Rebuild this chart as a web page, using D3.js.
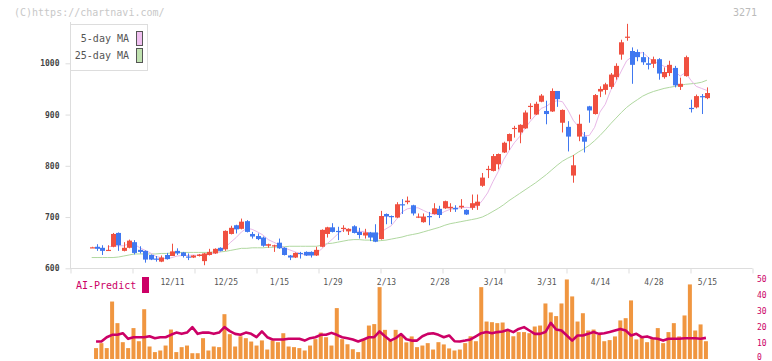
<!DOCTYPE html>
<html><head><meta charset="utf-8">
<script src="https://cdn.jsdelivr.net/npm/d3@7"></script>
<style>body{margin:0;background:#fff}svg{display:block}</style>
</head><body><svg id="c" width="772" height="361"></svg>
<script>
const dates = ["11/20","11/21","11/22","11/25","11/26","11/27","11/28","11/29","12/2","12/3","12/4","12/5","12/6","12/9","12/10","12/11","12/12","12/13","12/16","12/17","12/18","12/19","12/20","12/23","12/24","12/25","12/26","12/27","12/30","1/6","1/7","1/8","1/9","1/10","1/14","1/15","1/16","1/17","1/20","1/21","1/22","1/23","1/24","1/27","1/28","1/29","1/30","1/31","2/3","2/4","2/5","2/6","2/7","2/10","2/12","2/13","2/14","2/17","2/18","2/19","2/20","2/21","2/25","2/26","2/27","2/28","3/3","3/4","3/5","3/6","3/7","3/10","3/11","3/12","3/13","3/14","3/17","3/18","3/19","3/21","3/24","3/25","3/26","3/27","3/28","3/31","4/1","4/2","4/3","4/4","4/7","4/8","4/9","4/10","4/11","4/14","4/15","4/16","4/17","4/18","4/21","4/22","4/23","4/24","4/25","4/28","4/30","5/1","5/2","5/7","5/8","5/9","5/12","5/13","5/14","5/15"];
const open  = [641,642,640,635,642,669,634,640,651,636,634,626,619,613,626,624,634,631,623,621,624,614,626,629,640,637,667,684,677,692,667,663,660,644,643,650,640,625,621,630,632,632,625,642,667,680,673,677,672,682,671,664,670,670,657,706,702,699,725,729,723,700,690,702,706,716,717,717,718,719,714,718,722,761,793,790,803,826,848,872,865,873,915,900,925,907,906,946,884,876,781,857,857,916,901,945,948,954,973,1017,1050,1024,1022,1012,1000,999,1008,973,981,991,954,975,913,914,936,932];
const high  = [642,647,645,645,669,670,651,656,655,643,635,627,624,625,630,648,639,632,629,626,628,630,638,639,641,674,683,685,697,694,671,668,662,648,646,658,641,626,631,632,633,633,642,676,681,688,681,684,678,684,679,677,671,686,712,707,703,729,735,740,724,707,707,710,727,722,732,727,723,735,715,744,744,786,800,823,824,847,863,878,881,908,922,925,940,927,951,946,910,887,821,900,866,917,940,955,962,981,1000,1046,1077,1031,1027,1022,1012,1013,1010,992,1005,995,972,1015,929,939,940,953];
const low   = [640,634,626,635,641,634,633,639,627,629,611,616,613,612,617,624,626,621,616,620,623,606,625,628,633,634,666,668,676,670,658,655,642,640,632,638,625,616,620,619,624,621,624,641,660,670,655,671,665,668,658,658,653,651,656,686,686,698,706,725,703,698,689,684,705,698,716,710,710,716,704,714,714,759,776,789,793,825,831,855,844,872,891,899,924,881,905,915,865,828,767,848,826,884,900,934,939,950,968,1007,1044,960,1004,997,988,991,968,970,975,953,948,974,904,912,901,930];
const close = [641,638,634,636,667,645,640,654,630,632,617,617,617,621,618,633,629,624,621,625,627,629,632,638,634,673,679,676,691,671,662,657,644,647,645,639,626,621,630,628,625,625,636,675,680,671,672,679,677,669,665,670,660,652,702,701,700,725,724,732,707,701,701,701,717,704,731,720,715,722,705,727,730,777,794,819,823,845,862,874,880,904,917,921,937,901,946,930,909,857,801,882,847,908,938,950,959,978,995,1041,1052,997,1012,1002,997,1008,980,983,997,957,960,1012,911,936,934,942];
const ma5 = [null,null,null,642,643,644,644,648,647,640,635,630,623,621,618,621,624,625,625,626,625,625,627,630,632,641,651,660,671,678,676,671,665,656,651,646,640,636,632,629,626,626,629,638,648,657,667,675,676,674,672,672,668,663,670,677,683,696,710,716,718,718,713,708,705,705,711,715,717,718,719,718,720,732,747,769,789,812,829,845,857,873,887,899,912,916,924,927,925,909,889,876,859,859,875,905,920,947,964,985,1005,1013,1019,1021,1012,1003,1000,994,993,985,975,982,967,955,951,947];
const ma25 = [621,621,621,621,621,622,624,626,628,628,628,628,628,629,629,630,631,631,631,631,631,631,631,632,632,633,635,637,639,639,640,640,640,641,641,642,642,643,643,643,643,643,643,645,648,649,651,653,655,656,656,655,655,653,654,655,657,659,661,664,666,668,671,674,677,680,684,687,689,691,693,695,697,700,705,711,717,724,732,739,746,753,760,767,775,783,792,801,809,815,820,827,833,840,849,859,870,882,893,904,914,922,929,936,941,945,948,951,953,955,957,959,960,961,963,967];
const volume = [null,6.5,9.6,6.5,35.6,22.1,10.2,6.5,19,10.8,30.8,7.5,4,5,8.1,18.1,4,7.1,8.1,3.3,3.3,12.7,5,7.5,7.1,27.7,15.2,7.5,13.9,12.7,10.6,8.1,11.3,5.6,11.3,10.2,15.8,7.5,7.1,6.5,5,8.1,12.1,16.2,13.3,8.1,31.5,12.1,8.9,5.8,4,12.3,20.6,21.5,44.6,17.9,11.3,17.9,15,10.1,13.8,7.1,8.1,9.6,5.6,10.2,8.8,6.3,5,5.6,9.6,13.9,10.8,44.6,23.1,22.7,22.1,22.5,17.5,13.9,16.5,16.5,15.8,20,20.6,34.4,28.8,26.5,34.4,49.4,38.8,23.1,28.3,17.5,18.1,14.8,10.8,11.5,13.8,23.8,25.2,36.3,11.9,13.3,10.2,12.3,19,9.6,16.5,22.1,13.8,26.9,46.3,17.5,21.3,10.8];
const aiPredict = [null,10.6,10.6,13.3,14.8,14.8,15.8,12.3,13.3,13.3,13.3,13.9,12.7,13.3,13.3,14.8,16.2,15.4,16.2,19.6,15.4,16.2,16.2,15.4,16.2,19.6,17.1,15.4,14.8,16.2,15.4,13.3,16.9,13.3,11.9,11.9,11.9,12.3,12.3,12.3,11.2,12.7,13.3,14.8,14.8,16.0,14.8,13.3,12.7,11.9,10.6,11.9,13.3,13.3,16.9,13.9,11.2,12.7,15.3,12.0,11.2,11.2,13.9,15.4,15.8,14.8,13.3,14.4,10.8,10.6,11.2,11.9,13.9,15.8,16.5,15.8,16.5,16.9,17.9,16.5,18.5,19.6,17.5,15.4,15.4,16.5,22.3,18.1,17.5,14.4,11.2,14.4,14.4,15.4,16.5,15.4,15.8,16.5,17.5,18.5,17.5,14.4,15.4,13.3,13.8,12.7,12.3,11.2,12.3,12.3,12.3,12.7,12.7,12.7,12.3,12.9];
const xLabels = ["12/11","12/25","1/15","1/29","2/13","2/28","3/14","3/31","4/14","4/28","5/15"];
const yTicks = [600,700,800,900,1000];
const vTicks = [0,10,20,30,40,50];
const legendNames = ["5-day MA","25-day MA"];

const FONT = "'DejaVu Sans Mono', 'Liberation Mono', monospace";
const UP = "#f05040", DOWN = "#4078f0";
const svg = d3.select("#c");
const n = close.length;
const x = d3.scaleLinear().domain([-4, 123.5]).range([70.3, 752.4]);
const y = d3.scaleLinear().domain([600, 1000]).range([268.3, 63.3]);
const yv = d3.scaleLinear().domain([0, 50]).range([358.5, 278.5]);
const idx = d3.range(n);

// header texts
svg.append("text").attr("x", 14).attr("y", 16).attr("font-family", FONT).attr("font-size", 10)
  .attr("fill", "#c8c8c8").text("(C)https://chartnavi.com/");
svg.append("text").attr("x", 757).attr("y", 16).attr("text-anchor", "end").attr("font-family", FONT)
  .attr("font-size", 10).attr("fill", "#bbbbbb").text("3271");

// left axis
svg.append("line").attr("x1", 70.5).attr("x2", 70.5).attr("y1", 22).attr("y2", 268.5).attr("stroke", "#dddddd");
const ya = svg.append("g").attr("transform", "translate(70.5,0)")
  .call(d3.axisLeft(y).tickValues(yTicks).tickSize(5).tickPadding(6).tickFormat(d3.format("d")));
ya.select(".domain").remove();
ya.selectAll("line").attr("stroke", "#dddddd");
ya.selectAll("text").attr("font-family", FONT).attr("font-size", 8).attr("fill", "#444").attr("font-weight", "bold");

// bottom axis line and tick grid
svg.append("line").attr("x1", 70).attr("x2", 752.5).attr("y1", 268.5).attr("y2", 268.5).attr("stroke", "#dddddd");
const tg = d3.scaleLinear().domain([0, 11]).range([70.5, 752.5]);
const tga = svg.append("g").attr("transform", "translate(0,268.5)")
  .call(d3.axisBottom(tg).ticks(11).tickSize(5).tickFormat(""));
tga.select(".domain").remove();
tga.selectAll("line").attr("stroke", "#dddddd");

// date labels
const labelIdx = xLabels.map(l => dates.indexOf(l));
const xa = svg.append("g").attr("transform", "translate(0,276)")
  .call(d3.axisBottom(x).tickValues(labelIdx).tickSize(0).tickFormat(i => dates[i]));
xa.select(".domain").remove();
xa.selectAll("text").attr("font-family", FONT).attr("font-size", 8).attr("fill", "#555");

// volume bars
svg.append("g").selectAll("rect").data(idx.filter(i => volume[i] != null)).join("rect")
  .attr("x", i => x(i) - 3).attr("width", 4)
  .attr("y", i => yv(volume[i])).attr("height", i => 359 - yv(volume[i]))
  .attr("fill", "#f09640");

// AI predict line
svg.append("path").datum(idx)
  .attr("d", d3.line().defined(i => aiPredict[i] != null).x(i => x(i) - 1).y(i => yv(aiPredict[i])))
  .attr("fill", "none").attr("stroke", "#cc0066").attr("stroke-width", 2.6).attr("stroke-linejoin", "round");

// right axis
const va = svg.append("g").attr("transform", "translate(755,0)")
  .call(d3.axisRight(yv).tickValues(vTicks).tickSize(0).tickPadding(2));
va.select(".domain").remove();
va.selectAll("text").attr("font-family", FONT).attr("font-size", 8).attr("fill", "#cc0066")
  .attr("dy", d => d === 0 ? "0.1em" : "0.32em");

// AI-Predict label
svg.append("text").attr("x", 76).attr("y", 289).attr("font-family", FONT).attr("font-size", 10)
  .attr("fill", "#cc0066").text("AI-Predict");
svg.append("rect").attr("x", 142).attr("y", 277).attr("width", 7).attr("height", 16).attr("fill", "#cc0066");

// moving averages
svg.append("path").datum(idx)
  .attr("d", d3.line().defined(i => ma25[i] != null).x(i => x(i)).y(i => y(ma25[i])))
  .attr("fill", "none").attr("stroke", "#b0d8a0").attr("stroke-width", 1);
svg.append("path").datum(idx)
  .attr("d", d3.line().defined(i => ma5[i] != null).x(i => x(i)).y(i => y(ma5[i])))
  .attr("fill", "none").attr("stroke", "#e8b8e8").attr("stroke-width", 1);

// candles
const cg = svg.append("g").selectAll("g").data(idx).join("g");
cg.append("line")
  .attr("x1", i => Math.round(x(i)) + 0.5).attr("x2", i => Math.round(x(i)) + 0.5)
  .attr("y1", i => y(high[i])).attr("y2", i => y(low[i]))
  .attr("stroke", i => close[i] >= open[i] ? UP : DOWN).attr("stroke-width", 1);
cg.append("rect")
  .attr("x", i => Math.round(x(i)) - 2).attr("width", 5)
  .attr("y", i => y(Math.max(open[i], close[i])))
  .attr("height", i => Math.max(1.2, Math.abs(y(open[i]) - y(close[i]))))
  .attr("fill", i => close[i] >= open[i] ? UP : DOWN);

// legend
const lg = svg.append("g");
lg.append("rect").attr("x", 70.5).attr("y", 24.5).attr("width", 77).attr("height", 46)
  .attr("fill", "#fff").attr("stroke", "#dddddd");
const swFill = ["#f0c0f0", "#c0e2b0"];
legendNames.forEach((name, k) => {
  lg.append("text").attr("x", 129).attr("y", 42 + k * 17).attr("text-anchor", "end")
    .attr("font-family", FONT).attr("font-size", 10).attr("fill", "#555").text(name);
  lg.append("rect").attr("x", 136.5).attr("y", 31.5 + k * 17).attr("width", 6).attr("height", 14)
    .attr("fill", swFill[k]).attr("stroke", "#555");
});
</script>
</body></html>
